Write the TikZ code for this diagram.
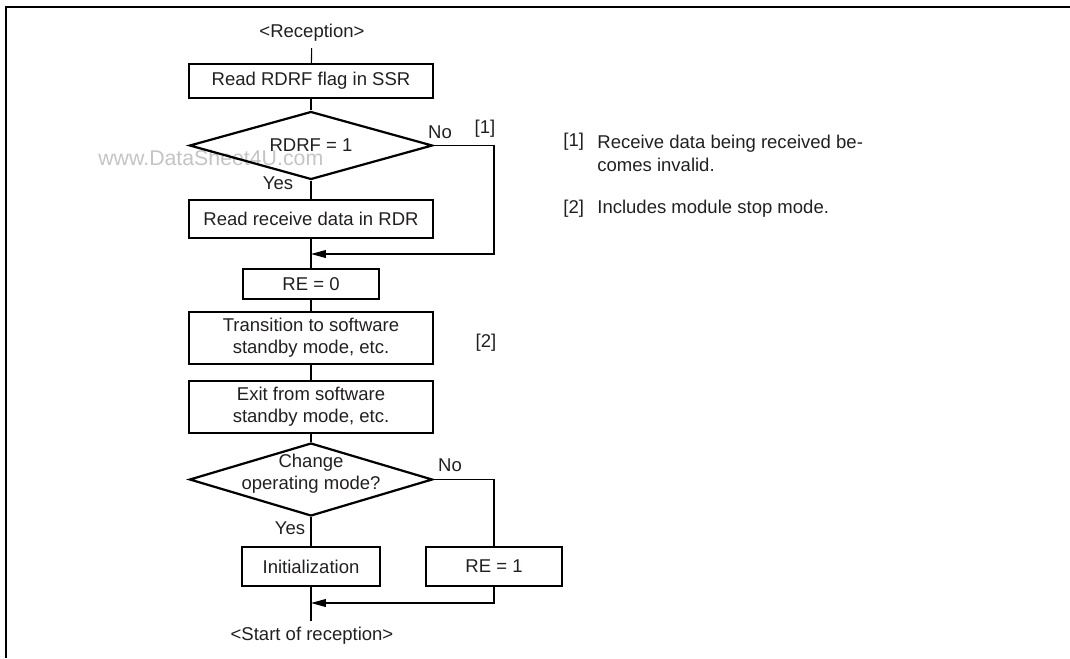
\documentclass[tikz,border=0pt]{standalone}
\usepackage{fontspec}
\setmainfont{Liberation Sans}
\usetikzlibrary{shapes.geometric, arrows.meta}
\definecolor{inkgray}{HTML}{231F20}
\definecolor{markgray}{HTML}{C4C4C4}

\begin{document}
\begin{tikzpicture}[x=0.54pt, y=-0.54pt,
    every node/.style={text=inkgray},
    procbox/.style={draw, line width=1.2pt, inner sep=0, align=center},
    decbox/.style={draw, diamond, line width=1.2pt, inner sep=0, minimum width=131.2pt},
    flow/.style={line width=0.6pt},
    flowarr/.style={line width=0.6pt, -{Triangle[length=8pt, width=4.2pt]}}]

\useasboundingbox (0,0) rectangle (1070,658);

%Frame and watermark

\draw [line width=1.1pt] (1070,7) -- (6,7) -- (6,658);
\node [text=markgray, font=\fontsize{11.5}{13}\selectfont, anchor=west, inner sep=0] (wmark) at (98,158) {www.DataSheet4U.com};

%Flow boxes

\node (rcp) at (312,33) {<Reception>};
\node [procbox, minimum width=131.8pt, minimum height=18.4pt] (rdflag) at (311,81) {Read RDRF flag in SSR};
\node [decbox, minimum height=36.7pt, label=center:{RDRF = 1}] (rdrfchk) at (311,145.5) {};
\node [procbox, minimum width=131.8pt, minimum height=20.5pt] (rdrecv) at (311,219) {Read receive data in RDR};
\node [procbox, minimum width=73.4pt, minimum height=16.2pt] (reclr) at (311,284) {RE = 0};
\node [procbox, minimum width=131.8pt, minimum height=28.1pt] (tostby) at (311,338) {Transition to software\\standby mode, etc.};
\node [procbox, minimum width=131.8pt, minimum height=28.1pt] (exstby) at (311,407) {Exit from software\\standby mode, etc.};
\node [decbox, minimum height=39.4pt, label={[align=center, yshift=3pt]center:Change\\operating mode?}] (modechk) at (311,479.5) {};
\node [procbox, minimum width=74.5pt, minimum height=21.1pt] (init) at (311,566.5) {Initialization};
\node [procbox, minimum width=73.4pt, minimum height=21.1pt] (reset) at (494,566.5) {RE = 1};
\node (start) at (312,636) {<Start of reception>};

\coordinate (bend1) at (494,254);
\coordinate (join1) at (311,254);
\coordinate (join2) at (311,603);

%Connectors

\draw [flow] (rcp) -- (rdflag);
\draw [flow] (rdflag) -- (rdrfchk);
\draw [flow] (rdrfchk) -- (rdrecv);
\draw [flow] (rdrecv) -- (reclr);
\draw [flowarr] (rdrfchk.east) -| (bend1) -- (join1);
\draw [flow] (reclr) -- (tostby);
\draw [flow] (tostby) -- (exstby);
\draw [flow] (exstby) -- (modechk);
\draw [flow] (modechk) -- (init);
\draw [flow] (modechk.east) -| (reset);
\draw [flowarr] (reset) |- (join2);
\draw [flow] (init) -- (join2) -- (join2 |- start.north);

%Branch labels

\node (yes1) at (278,183) {Yes};
\node (no1) at (440,132) {No};
\node (mark1) at (485,129) {[1]};
\node (mark2) at (486,343) {[2]};
\node (no2) at (450,465) {No};
\node (yes2) at (290,528) {Yes};

%Notes

\node [anchor=west, inner sep=0] (note1) at (563,142) {[1]};
\node [anchor=north west, inner sep=0, align=left] (note1txt) at (597,135) {Receive data being received be-\\comes invalid.};
\node [anchor=west, inner sep=0] (note2) at (563,209) {[2]};
\node [anchor=west, inner sep=0] (note2txt) at (597,209) {Includes module stop mode.};

\end{tikzpicture}
\end{document}
